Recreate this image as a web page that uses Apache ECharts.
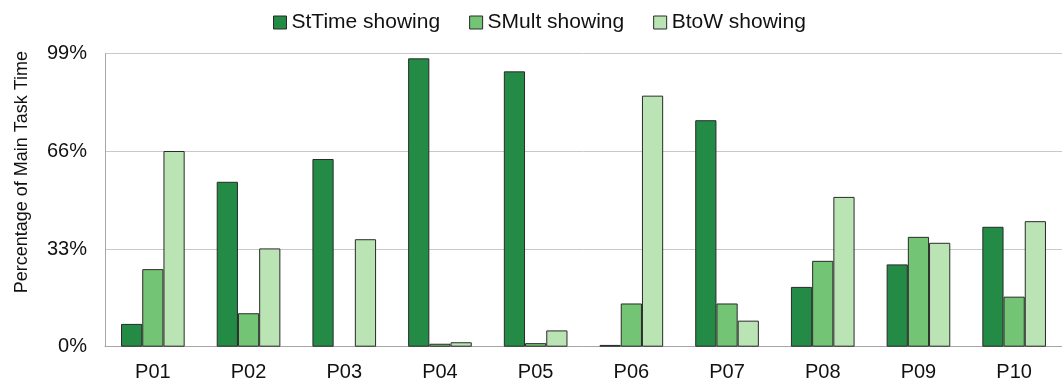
<!DOCTYPE html>
<html>
<head>
<meta charset="utf-8">
<script src="https://cdn.jsdelivr.net/npm/echarts@6/dist/echarts.min.js"></script>
<style>
  html, body { margin: 0; padding: 0; background: #fff; }
  #chart { width: 1062px; height: 388px; }
</style>
</head>
<body>
<div id="chart"></div>
<script>
// Participants on the x axis
const participants = ['P01', 'P02', 'P03', 'P04', 'P05', 'P06', 'P07', 'P08', 'P09', 'P10'];

// Percentage of main task time, per condition
const stTimeShowing = [7.7, 55.7, 63.4, 97.4, 93.0, 0.6, 76.5, 20.2, 27.8, 40.5];
const sMultShowing  = [26.2, 11.3, 0, 1.0, 1.2, 14.6, 14.6, 29.0, 37.1, 16.9];
const btoWShowing   = [66.1, 33.2, 36.3, 1.5, 5.5, 84.8, 8.8, 50.6, 35.1, 42.4];

const seriesNames = ['StTime showing', 'SMult showing', 'BtoW showing'];
const seriesColors = ['#238b45', '#74c476', '#bae4b3'];
const yTicks = [0, 33, 66, 99];

const font = '"Liberation Sans", Arial, sans-serif';

const chart = echarts.init(document.getElementById('chart'));

// A zero value gets no outline, so nothing is drawn for it
function barData(values) {
  return values.map(v => (v === 0 ? { value: v, itemStyle: { borderWidth: 0 } } : v));
}

function barSeries(name, data, color) {
  return {
    name: name,
    type: 'bar',
    data: barData(data),
    barGap: '0%',
    barCategoryGap: '33.5%',
    itemStyle: { color: color, borderColor: '#2a2a2a', borderWidth: 1 },
    emphasis: { disabled: true }
  };
}

chart.setOption({
  animation: false,
  legend: {
    top: 7,
    left: 268,
    itemWidth: 13,
    itemHeight: 13,
    itemGap: 29,
    icon: 'rect',
    textStyle: { fontFamily: font, fontSize: 21, color: '#111' },
    itemStyle: { borderColor: '#2a2a2a', borderWidth: 1 },
    data: seriesNames
  },
  grid: {
    left: 105,
    top: 53.6,
    width: 973,
    height: 293.1,
    containLabel: false
  },
  xAxis: {
    type: 'category',
    data: participants,
    axisLine: { show: true, lineStyle: { color: '#a6a6a6', width: 1 } },
    axisTick: { show: false },
    axisLabel: { fontFamily: font, fontSize: 20, color: '#111', margin: 16 }
  },
  yAxis: {
    type: 'value',
    min: yTicks[0],
    max: yTicks[yTicks.length - 1],
    interval: yTicks[1] - yTicks[0],
    name: 'Percentage of Main Task Time',
    nameLocation: 'middle',
    nameGap: 74,
    nameTextStyle: { fontFamily: font, fontSize: 18, color: '#111', padding: [0, 0, 0, 56] },
    axisLine: { show: true, lineStyle: { color: '#a6a6a6', width: 1 } },
    axisTick: { show: false },
    axisLabel: { fontFamily: font, fontSize: 20, color: '#111', margin: 18, formatter: '{value}%' },
    splitLine: { show: true, lineStyle: { color: '#c8c8c8', width: 1 } }
  },
  series: [
    barSeries(seriesNames[0], stTimeShowing, seriesColors[0]),
    barSeries(seriesNames[1], sMultShowing, seriesColors[1]),
    barSeries(seriesNames[2], btoWShowing, seriesColors[2])
  ]
});
</script>
</body>
</html>
